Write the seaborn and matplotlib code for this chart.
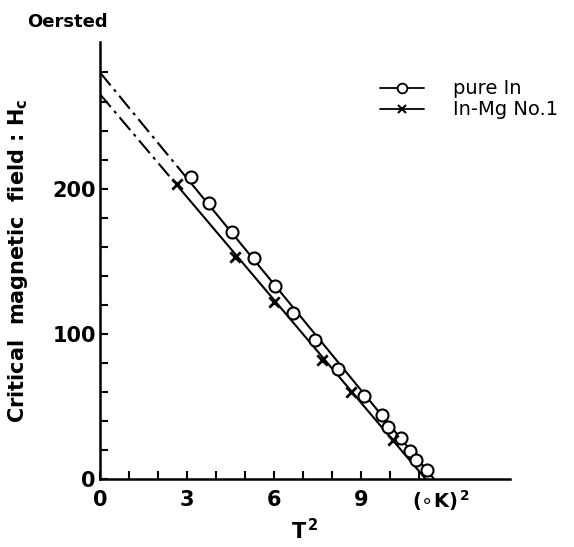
import matplotlib
matplotlib.use("Agg")
import matplotlib.pyplot as plt
from matplotlib.lines import Line2D
from matplotlib.ticker import FixedLocator
import seaborn as sns
import pandas as pd
import numpy as np

# ---- data ----
pure_T2 = [3.13, 3.75, 4.54, 5.31, 6.04, 6.67, 7.41, 8.22, 9.11, 9.73, 9.94, 10.37, 10.69, 10.89, 11.27]
pure_H = [208, 190, 170, 152, 133, 114, 96, 76, 57, 44, 36, 28, 19, 13, 6]
mg_T2 = [2.64, 4.66, 6.00, 7.67, 8.64, 10.09]
mg_H = [203, 153, 122, 82, 60, 27]

# fitted straight lines: extrapolated (dash-dot) part and measured (solid) part
pure_extrap_T2 = [0.0, 3.13]
pure_extrap_H = [280, 204]
pure_fit_T2 = [3.13, 11.52]
pure_fit_H = [204, 0]
mg_extrap_T2 = [0.0, 2.64]
mg_extrap_H = [265, 202.7]
mg_fit_T2 = [2.64, 11.23]
mg_fit_H = [202.7, 0]

x_major = [0, 3, 6, 9]
x_major_labels = ["0", "3", "6", "9"]
x_minor = [1, 2, 4, 5, 7, 8, 10, 11]
y_major = [0, 100, 200]
y_minor = [20, 40, 60, 80, 120, 140, 160, 180, 220, 240, 260, 280]

series_labels = ["pure In", "In-Mg No.1"]

sns.set_style("ticks")
plt.rcParams["font.family"] = ["DejaVu Sans"]
for k in ["text.color", "axes.labelcolor", "xtick.color", "ytick.color", "axes.edgecolor"]:
    plt.rcParams[k] = "black"

fig = plt.figure(figsize=(5.74, 5.47), dpi=100)
ax = fig.add_axes([100 / 574, 68 / 547, 410 / 574, 437 / 547])

lw = 1.5
dd = (0, (8, 2.5, 1.5, 2.5))
sns.lineplot(x=pure_extrap_T2, y=pure_extrap_H, ax=ax, color="black", lw=lw, linestyle=dd)
sns.lineplot(x=pure_fit_T2, y=pure_fit_H, ax=ax, color="black", lw=lw)
sns.lineplot(x=mg_extrap_T2, y=mg_extrap_H, ax=ax, color="black", lw=lw, linestyle=dd)
sns.lineplot(x=mg_fit_T2, y=mg_fit_H, ax=ax, color="black", lw=lw)

sns.scatterplot(x=pure_T2, y=pure_H, ax=ax, marker="o", s=75, facecolor="white",
                edgecolor="black", linewidth=1.5, zorder=5)
sns.scatterplot(x=mg_T2, y=mg_H, ax=ax, marker="x", s=55, color="black",
                linewidth=2.0, zorder=5)

ax.set_xlim(0, 14.14)
ax.set_ylim(0, 301)
sns.despine(ax=ax)
for sp in ["left", "bottom"]:
    ax.spines[sp].set_linewidth(1.8)
    ax.spines[sp].set_color("black")

ax.xaxis.set_major_locator(FixedLocator(x_major))
ax.set_xticklabels(x_major_labels)
ax.xaxis.set_minor_locator(FixedLocator(x_minor))
ax.yaxis.set_major_locator(FixedLocator(y_major))
ax.set_yticklabels([str(v) for v in y_major])
ax.yaxis.set_minor_locator(FixedLocator(y_minor))
ax.tick_params(which="both", direction="in", width=1.5, color="black", labelcolor="black")
ax.tick_params(which="both", length=6)
ax.tick_params(axis="x", pad=8, labelsize=15)
ax.tick_params(axis="y", pad=3, labelsize=15)
for t in ax.get_xticklabels() + ax.get_yticklabels():
    t.set_fontweight("bold")

ax.text(11.75, -6, r"($\circ$K)$^{\,\mathbf{2}}$", ha="center", va="top",
        fontsize=14, fontweight="bold", color="black")
ax.set_xlabel(r"T$^{\,\mathbf{2}}$", fontsize=15, fontweight="bold", labelpad=6, color="black")
ax.set_ylabel(r"Critical  magnetic  field : H$_{\mathbf{c}}$", fontsize=15,
              fontweight="bold", labelpad=16, color="black")
fig.text(67 / 574, 1 - 22 / 547, "Oersted", ha="center", va="center",
         fontsize=13, fontweight="bold", color="black")

handles = [
    Line2D([], [], color="black", lw=1.3, marker="o", markersize=7,
           markerfacecolor="white", markeredgecolor="black", markeredgewidth=1.3),
    Line2D([], [], color="black", lw=1.3, marker="x", markersize=6,
           markeredgewidth=1.5),
]
leg = ax.legend(handles, series_labels, loc="upper left",
                bbox_to_anchor=(362 / 574, 1 - 62 / 547), bbox_transform=fig.transFigure,
                frameon=False, handlelength=2.3, handletextpad=1.5,
                labelspacing=0.1, prop={"size": 14, "weight": "medium"})
for t in leg.get_texts():
    t.set_color("black")

fig.savefig("out.png", dpi=100)
